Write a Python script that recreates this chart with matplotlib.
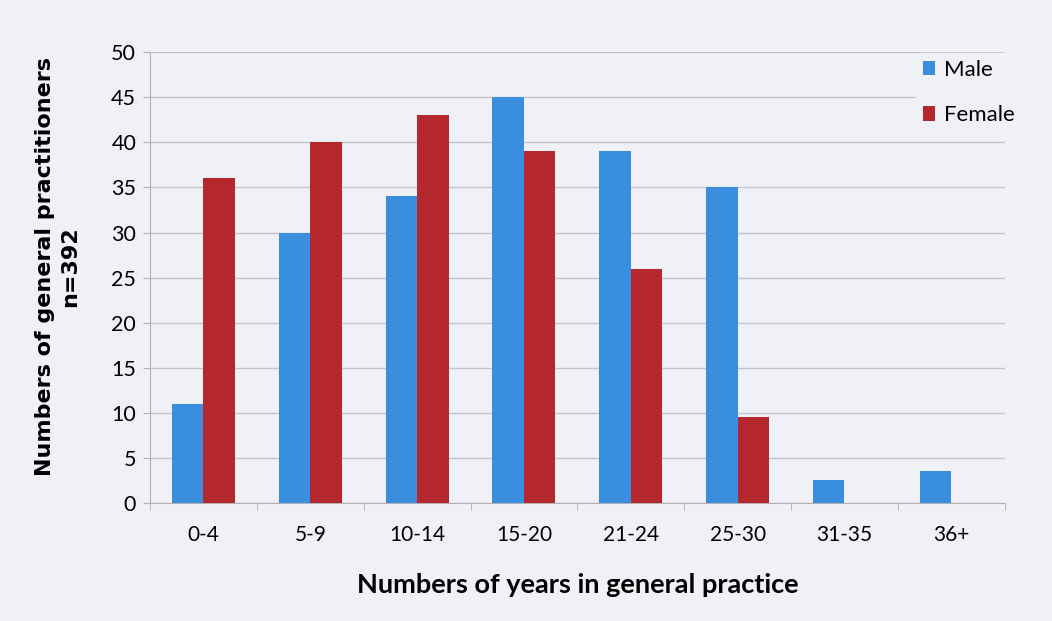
import numpy as np
import matplotlib.pyplot as plt

categories = ["0-4", "5-9", "10-14", "15-20", "21-24", "25-30", "31-35", "36+"]
male = [11, 30, 34, 45, 39, 35, 2.5, 3.5]
female = [36, 40, 43, 39, 26, 9.5, 0, 0]

plt.rcParams["font.family"] = ["Lato", "DejaVu Sans"]

bg = "#eff1f7"
fig = plt.figure(figsize=(10.52, 6.21), dpi=100, facecolor=bg)
ax = fig.add_axes([0.1426, 0.19, 0.8124, 0.726], facecolor=bg)

x = np.arange(len(categories))
w = 0.295
ax.bar(x - w / 2, male, w, color="#3a8ee0", label="Male", zorder=3)
ax.bar(x + w / 2, female, w, color="#b3272d", label="Female", zorder=3)

ax.set_xlim(-0.5, len(categories) - 0.5)
ax.set_ylim(0, 50)
ax.set_yticks(range(0, 51, 5))
ax.tick_params(axis="y", labelsize=15.5, length=5, color="#b0b0b0", pad=5)
ax.set_xticks(x)
ax.set_xticklabels(categories, fontsize=15)
ax.tick_params(axis="x", length=0, pad=16)
ax.set_xticks(np.arange(-0.5, len(categories)), minor=True)
ax.tick_params(axis="x", which="minor", length=5, color="#b0b0b0")
ax.grid(axis="y", color="#c4c6cc", linewidth=1, zorder=0)

for side in ["top", "right"]:
    ax.spines[side].set_visible(False)
for side in ["left", "bottom"]:
    ax.spines[side].set_color("#b0b0b0")

ax.set_xlabel("Numbers of years in general practice", fontsize=19.5,
              fontweight="bold", labelpad=20)
ax.set_ylabel("Numbers of general practitioners\nn=392", fontsize=16,
              fontweight="bold", linespacing=1.3, family="DejaVu Sans")
ax.yaxis.set_label_coords(-0.082, 0.525)

leg = ax.legend(loc="upper left", bbox_to_anchor=(905 / 1052, 1 - 42 / 621),
                bbox_transform=fig.transFigure, fontsize=16,
                frameon=True, facecolor=bg, edgecolor=bg, framealpha=1,
                handlelength=0.55, handleheight=0.6, handletextpad=0.4,
                labelspacing=1.15, borderpad=0.3)

fig.savefig("out.png", dpi=100, facecolor=bg)
